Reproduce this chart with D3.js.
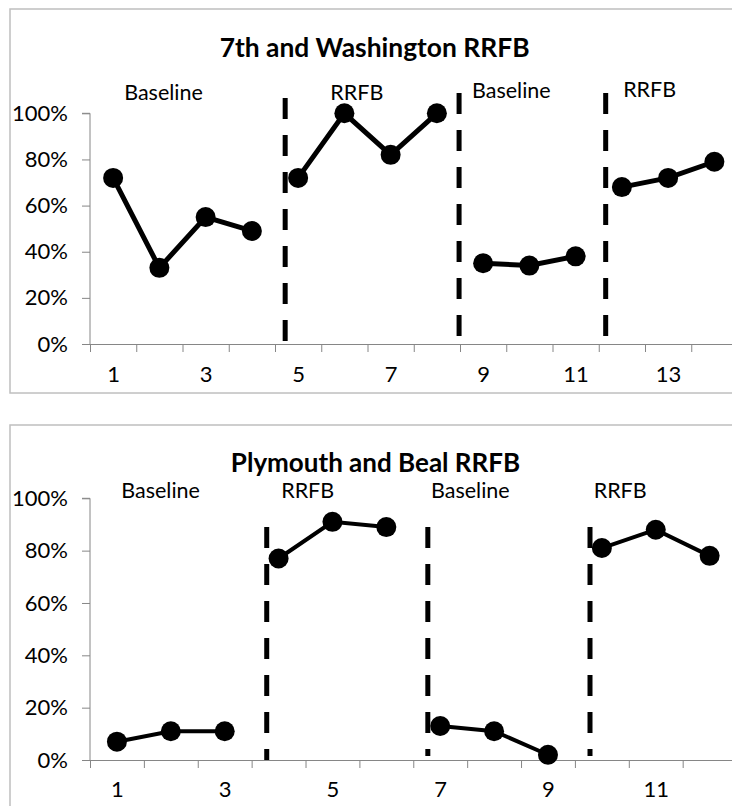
<!DOCTYPE html>
<html><head><meta charset="utf-8">
<script src="https://cdn.jsdelivr.net/npm/d3@7"></script>
<style>
html,body{margin:0;padding:0;background:#fff;}
svg{display:block;}
text{font-family:Lato,"Open Sans",sans-serif;fill:#000;}
</style></head><body>
<svg id="c" width="732" height="806"></svg>
<script>
// ---------- data ----------
const title1 = "7th and Washington RRFB";
const sessions1 = d3.range(1, 15);
const values1 = [0.72, 0.33, 0.55, 0.49, 0.72, 1.00, 0.82, 1.00, 0.35, 0.34, 0.38, 0.68, 0.72, 0.79];
const phases1 = [[1,4],[5,8],[9,11],[12,14]];
const phaseLines1 = [4.22, 7.98, 11.15];
const phaseNames1 = ["Baseline", "RRFB", "Baseline", "RRFB"];
const phaseLabelPos1 = [1.59, 5.77, 9.11, 12.1];

const title2 = "Plymouth and Beal RRFB";
const sessions2 = d3.range(1, 13);
const values2 = [0.07, 0.11, 0.11, 0.77, 0.91, 0.89, 0.13, 0.11, 0.02, 0.81, 0.88, 0.78];
const phases2 = [[1,3],[4,6],[7,9],[10,12]];
const phaseLines2 = [3.28, 6.27, 9.28];
const phaseNames2 = ["Baseline", "RRFB", "Baseline", "RRFB"];
const phaseLabelPos2 = [1.31, 4.04, 7.06, 9.84];

const yTicks = [0, 0.2, 0.4, 0.6, 0.8, 1.0];

// ---------- drawing ----------
const svg = d3.select("#c");
const axisColor = "#868686";

function drawChart(cfg) {
  const g = svg.append("g");
  // frame
  g.append("rect").attr("x", cfg.frame[0]).attr("y", cfg.frame[1])
    .attr("width", cfg.frame[2]).attr("height", cfg.frame[3])
    .attr("fill", "none").attr("stroke", "#bfbfbf").attr("stroke-width", 1.5);

  const n = cfg.sessions.length;
  const x = d3.scaleLinear().domain([0, n]).range([cfg.left, cfg.left + n * cfg.band]);
  const y = d3.scaleLinear().domain([0, 1]).range([cfg.bottom, cfg.top]);

  // y axis
  const ya = g.append("g").attr("transform", `translate(${cfg.left},0)`)
    .call(d3.axisLeft(y).tickValues(yTicks).tickFormat(d3.format(".0%")).tickSize(8).tickPadding(14));
  ya.select(".domain").attr("stroke", axisColor).attr("d", `M-8,${y(1)}H0V${y(0)}`);
  ya.selectAll(".tick line").attr("stroke", axisColor);
  ya.selectAll(".tick text").attr("font-size", 22).attr("font-family", "Lato").attr("fill", "#000");

  // x axis: marks at category boundaries
  const xa = g.append("g").attr("transform", `translate(0,${cfg.bottom})`)
    .call(d3.axisBottom(x).tickValues(d3.range(0, n + 1)).tickFormat("").tickSize(8).tickSizeOuter(0));
  xa.select(".domain").attr("stroke", axisColor);
  xa.selectAll(".tick line").attr("stroke", axisColor);
  // x labels at odd categories
  const xl = g.append("g").attr("transform", `translate(0,${cfg.bottom})`)
    .call(d3.axisBottom(x).tickValues(cfg.sessions.filter(s => s % 2 === 1).map(s => s - 0.5))
      .tickFormat(v => String(v + 0.5)).tickSize(0).tickPadding(cfg.xPad));
  xl.select(".domain").remove();
  xl.selectAll(".tick text").attr("font-size", 22).attr("font-family", "Lato").attr("fill", "#000");

  // title
  g.append("text").attr("x", cfg.titleX).attr("y", cfg.titleY).attr("text-anchor", "middle")
    .attr("font-size", cfg.titleSize).attr("font-weight", "bold").text(cfg.title);

  // phase labels
  g.selectAll(".pl").data(cfg.phaseNames).join("text")
    .attr("x", (d, i) => x(cfg.phaseLabelPos[i])).attr("y", (d, i) => cfg.labelY[i])
    .attr("text-anchor", "middle").attr("font-size", 21.5).text(d => d);

  // phase-change lines
  g.selectAll(".pc").data(cfg.phaseLines).join("line")
    .attr("x1", d => x(d)).attr("x2", d => x(d))
    .attr("y1", (d, i) => y(cfg.lineTop[i])).attr("y2", (d, i) => y(cfg.lineBottom[i]))
    .attr("stroke", "#000").attr("stroke-width", 5).attr("stroke-dasharray", "21,16");

  // data segments
  const line = d3.line().x(d => x(d.s - 0.5)).y(d => y(d.v));
  const pts = cfg.sessions.map((s, i) => ({ s, v: cfg.values[i] }));
  cfg.phases.forEach(([a, b]) => {
    const seg = pts.filter(p => p.s >= a && p.s <= b);
    g.append("path").datum(seg).attr("d", line)
      .attr("fill", "none").attr("stroke", "#000").attr("stroke-width", cfg.lw);
  });
  g.selectAll(".pt").data(pts).join("circle")
    .attr("cx", d => x(d.s - 0.5)).attr("cy", d => y(d.v)).attr("r", 10).attr("fill", "#000");
}

drawChart({
  title: title1, sessions: sessions1, values: values1, phases: phases1,
  phaseLines: phaseLines1, phaseNames: phaseNames1, phaseLabelPos: phaseLabelPos1,
  frame: [10, 9, 740, 384], left: 90, band: 46.25, top: 113.3, bottom: 344,
  titleX: 374.6, titleY: 57, titleSize: 26.4, labelY: [100, 100, 97.5, 97], xPad: 22, lw: 5,
  lineTop: [1.066, 1.088, 1.088], lineBottom: [0, 0.03, 0.01]
});
drawChart({
  title: title2, sessions: sessions2, values: values2, phases: phases2,
  phaseLines: phaseLines2, phaseNames: phaseNames2, phaseLabelPos: phaseLabelPos2,
  frame: [10, 425, 740, 420], left: 90, band: 53.88, top: 498.3, bottom: 760,
  titleX: 375.5, titleY: 471.5, titleSize: 26, labelY: [497.5, 497.5, 497.5, 497.5], xPad: 21, lw: 4,
  lineTop: [0.89, 0.89, 0.89], lineBottom: [0, 0.015, 0.015]
});
</script></body></html>
